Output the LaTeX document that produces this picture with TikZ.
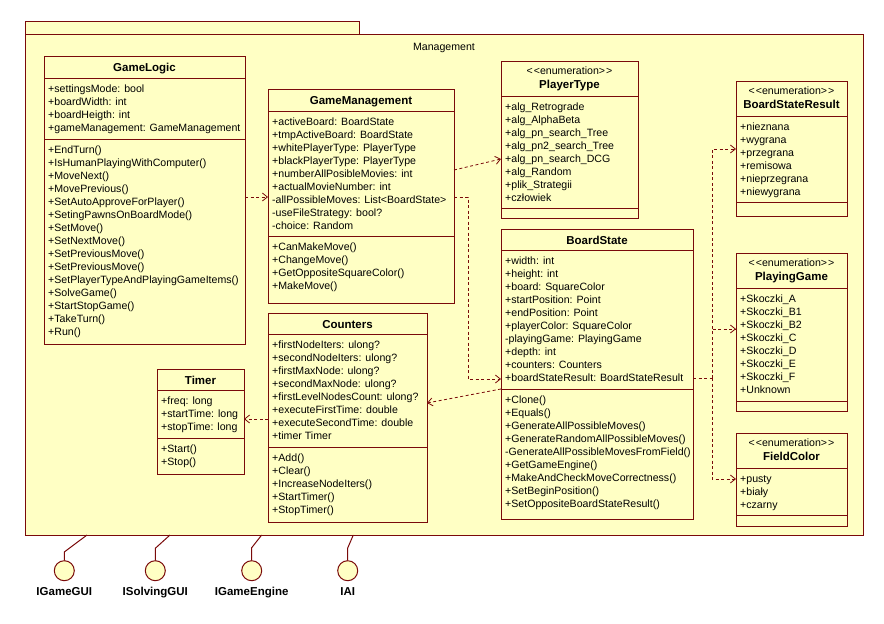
\documentclass[tikz,border=0pt]{standalone}
\usepackage{fontspec}
\setmainfont{Liberation Sans}
\usetikzlibrary{arrows.meta,calc}
\definecolor{umlfill}{HTML}{FFFFC4}
\definecolor{umlline}{HTML}{7A0A0A}
\newcommand\regf{\fontsize{10.6}{13}\selectfont}
\newcommand\boldf{\fontsize{11.5}{13}\selectfont\bfseries}
\newcommand\stereo{<\kern1pt<enumeration>\kern1pt>}
\begin{document}
\begin{tikzpicture}[x=1pt,y=-1pt,
  cls/.style={draw=umlline, fill=umlfill, line width=1pt, inner sep=0pt, outer sep=0pt, anchor=north west},
  sep/.style={draw=umlline, line width=1pt},
  txt/.style={anchor=north west, inner sep=0pt, align=left, font=\regf, text=black},
  ttl/.style={anchor=base, inner sep=0pt, font=\boldf, text=black},
  ster/.style={anchor=base, inner sep=0pt, font=\regf, text=black},
  dline/.style={draw=umlline, line width=0.8pt, dash pattern=on 3pt off 2.5pt},
  dep/.style={dline, -{Straight Barb[length=5pt,width=8pt]}},
  lolli/.style={circle, draw=umlline, fill=umlfill, line width=1pt, minimum size=20pt, inner sep=0pt},
]
\useasboundingbox[fill=white] (0,0) rectangle (884,624);

% package
\node[cls, minimum width=334pt, minimum height=13pt] (tab) at (25,21) {};
\node[cls, minimum width=838pt, minimum height=501pt] (pkg) at (25,34) {};
\node[ster] (pkgname) at (444,50) {Management};

% GameLogic
\node[cls, minimum width=201pt, minimum height=288pt] (GL) at (44,56) {};
\draw[sep] (GL.west |- 0,78) -- (GL.east |- 0,78);
\draw[sep] (GL.west |- 0,139) -- (GL.east |- 0,139);
\node[ttl] (GLt) at (144.5,71) {GameLogic};
\node[txt] (GLa) at (48,83.2) {\strut+settingsMode: bool\\+boardWidth: int\\+boardHeigth: int\\+gameManagement: GameManagement};
\node[txt] (GLm) at (48,144.2) {\strut+EndTurn()\\+IsHumanPlayingWithComputer()\\+MoveNext()\\+MovePrevious()\\+SetAutoApproveForPlayer()\\+SetingPawnsOnBoardMode()\\+SetMove()\\+SetNextMove()\\+SetPreviousMove()\\+SetPreviousMove()\\+SetPlayerTypeAndPlayingGameItems()\\+SolveGame()\\+StartStopGame()\\+TakeTurn()\\+Run()};

% GameManagement
\node[cls, minimum width=186pt, minimum height=214pt] (GM) at (268,89) {};
\draw[sep] (GM.west |- 0,111) -- (GM.east |- 0,111);
\draw[sep] (GM.west |- 0,236) -- (GM.east |- 0,236);
\node[ttl] (GMt) at (361,104) {GameManagement};
\node[txt] (GMa) at (272,116.2) {\strut+activeBoard: BoardState\\+tmpActiveBoard: BoardState\\+whitePlayerType: PlayerType\\+blackPlayerType: PlayerType\\+numberAllPosibleMovies: int\\+actualMovieNumber: int\\-allPossibleMoves: List<BoardState>\\-useFileStrategy: bool?\\-choice: Random};
\node[txt] (GMm) at (272,241.2) {\strut+CanMakeMove()\\+ChangeMove()\\+GetOppositeSquareColor()\\+MakeMove()};

% PlayerType
\node[cls, minimum width=137pt, minimum height=157pt] (PT) at (501,61) {};
\draw[sep] (PT.west |- 0,96) -- (PT.east |- 0,96);
\draw[sep] (PT.west |- 0,208) -- (PT.east |- 0,208);
\node[ster] (PTs) at (569.5,74.5) {\stereo};
\node[ttl] (PTt) at (569.5,88.5) {PlayerType};
\node[txt] (PTa) at (505,101.2) {\strut+alg\_Retrograde\\+alg\_AlphaBeta\\+alg\_pn\_search\_Tree\\+alg\_pn2\_search\_Tree\\+alg\_pn\_search\_DCG\\+alg\_Random\\+plik\_Strategii\\+człowiek};

% BoardState
\node[cls, minimum width=192pt, minimum height=290pt] (BS) at (501,229) {};
\draw[sep] (BS.west |- 0,250) -- (BS.east |- 0,250);
\draw[sep] (BS.west |- 0,389) -- (BS.east |- 0,389);
\node[ttl] (BSt) at (597,244) {BoardState};
\node[txt] (BSa) at (505,255.2) {\strut+width: int\\+height: int\\+board: SquareColor\\+startPosition: Point\\+endPosition: Point\\+playerColor: SquareColor\\-playingGame: PlayingGame\\+depth: int\\+counters: Counters\\+boardStateResult: BoardStateResult};
\node[txt] (BSm) at (505,394.2) {\strut+Clone()\\+Equals()\\+GenerateAllPossibleMoves()\\+GenerateRandomAllPossibleMoves()\\-GenerateAllPossibleMovesFromField()\\+GetGameEngine()\\+MakeAndCheckMoveCorrectness()\\+SetBeginPosition()\\+SetOppositeBoardStateResult()};

% BoardStateResult
\node[cls, minimum width=111pt, minimum height=135pt] (BSR) at (736,81) {};
\draw[sep] (BSR.west |- 0,116) -- (BSR.east |- 0,116);
\draw[sep] (BSR.west |- 0,202) -- (BSR.east |- 0,202);
\node[ster] (BSRs) at (791.5,94.5) {\stereo};
\node[ttl] (BSRt) at (791.5,108.5) {BoardStateResult};
\node[txt] (BSRa) at (740,121.2) {\strut+nieznana\\+wygrana\\+przegrana\\+remisowa\\+nieprzegrana\\+niewygrana};

% PlayingGame
\node[cls, minimum width=111pt, minimum height=158pt] (PG) at (736,253) {};
\draw[sep] (PG.west |- 0,288) -- (PG.east |- 0,288);
\draw[sep] (PG.west |- 0,401) -- (PG.east |- 0,401);
\node[ster] (PGs) at (791.5,266.5) {\stereo};
\node[ttl] (PGt) at (791.5,280.5) {PlayingGame};
\node[txt] (PGa) at (740,293.2) {\strut+Skoczki\_A\\+Skoczki\_B1\\+Skoczki\_B2\\+Skoczki\_C\\+Skoczki\_D\\+Skoczki\_E\\+Skoczki\_F\\+Unknown};

% FieldColor
\node[cls, minimum width=111pt, minimum height=93pt] (FC) at (736,433) {};
\draw[sep] (FC.west |- 0,468) -- (FC.east |- 0,468);
\draw[sep] (FC.west |- 0,515) -- (FC.east |- 0,515);
\node[ster] (FCs) at (791.5,446.5) {\stereo};
\node[ttl] (FCt) at (791.5,460.5) {FieldColor};
\node[txt] (FCa) at (740,473.2) {\strut+pusty\\+biały\\+czarny};

% Counters
\node[cls, minimum width=159pt, minimum height=209pt] (CT) at (268,313) {};
\draw[sep] (CT.west |- 0,334) -- (CT.east |- 0,334);
\draw[sep] (CT.west |- 0,447) -- (CT.east |- 0,447);
\node[ttl] (CTt) at (347.5,328) {Counters};
\node[txt] (CTa) at (272,339.2) {\strut+firstNodeIters: ulong?\\+secondNodeIters: ulong?\\+firstMaxNode: ulong?\\+secondMaxNode: ulong?\\+firstLevelNodesCount: ulong?\\+executeFirstTime: double\\+executeSecondTime: double\\+timer Timer};
\node[txt] (CTm) at (272,452.2) {\strut+Add()\\+Clear()\\+IncreaseNodeIters()\\+StartTimer()\\+StopTimer()};

% Timer
\node[cls, minimum width=87pt, minimum height=105pt] (TM) at (157,369) {};
\draw[sep] (TM.west |- 0,390) -- (TM.east |- 0,390);
\draw[sep] (TM.west |- 0,438) -- (TM.east |- 0,438);
\node[ttl] (TMt) at (200.5,384) {Timer};
\node[txt] (TMa) at (161,395.2) {\strut+freq: long\\+startTime: long\\+stopTime: long};
\node[txt] (TMm) at (161,443.2) {\strut+Start()\\+Stop()};

% dependencies
\draw[dep] (GL.east |- 0,197) -- (GM.west |- 0,197);
\draw[dep] (GM.east |- 0,170) -- (PT.west |- 0,159);
\coordinate (j1) at (468,379);
\draw[dep] (GM.east |- 0,197) -| (j1) -- (BS.west |- j1);
\draw[dep] (BS.west |- 0,389) -- (CT.east |- 0,403);
\draw[dep] (CT.west |- 0,419) -- (TM.east |- 0,419);
\coordinate (j2) at (712,378);
\draw[dline] (BS.east |- j2) -- (j2);
\draw[dep] (j2) |- (BSR.west |- 0,149);
\draw[dep] (j2) |- (PG.west |- 0,329);
\draw[dep] (j2) |- (FC.west |- 0,479);

% interfaces
\node[lolli] (i1) at (64.3,570.7) {};
\node[lolli] (i2) at (155.3,570.7) {};
\node[lolli] (i3) at (251.7,570.7) {};
\node[lolli] (i4) at (347.7,570.7) {};
\draw[sep] (i1.north) -- (64.3,552) -- (pkg.south -| 87,0);
\draw[sep] (i2.north) -- (155.3,548.3) -- (pkg.south -| 170,0);
\draw[sep] (i3.north) -- (251.7,547.7) -- (pkg.south -| 261.7,0);
\draw[sep] (i4.north) -- (347.7,548) -- (pkg.south -| 353.3,0);
\node[ttl] (i1l) at (64.3,595.8) {IGameGUI};
\node[ttl] (i2l) at (155.3,595.8) {ISolvingGUI};
\node[ttl] (i3l) at (251.7,595.8) {IGameEngine};
\node[ttl] (i4l) at (347.7,595.8) {IAI};
\end{tikzpicture}
\end{document}
